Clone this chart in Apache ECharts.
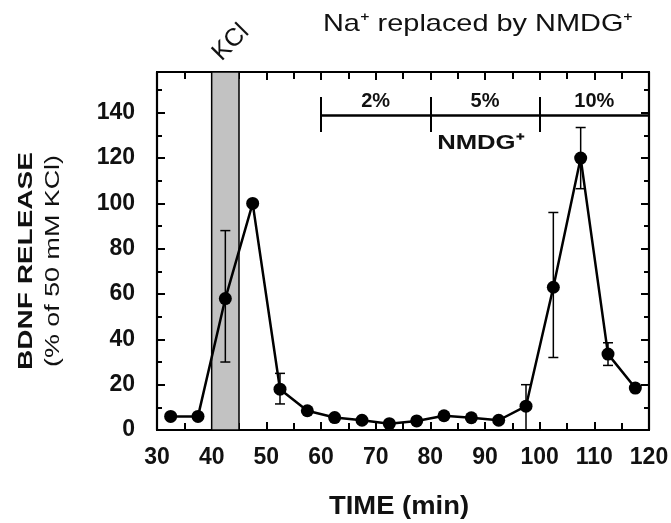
<!DOCTYPE html>
<html>
<head>
<meta charset="utf-8">
<script src="https://cdn.jsdelivr.net/npm/echarts@6/dist/echarts.min.js"></script>
<style>
  html, body { margin: 0; padding: 0; background: #fff; }
  #chart { width: 671px; height: 523px; }
</style>
</head>
<body>
<div id="chart"></div>
<script>
// sampling times (min) and BDNF release (% of 50 mM KCl)
const time = [32.5, 37.5, 42.5, 47.5, 52.5, 57.5, 62.5, 67.5, 72.5, 77.5, 82.5, 87.5, 92.5, 97.5, 102.5, 107.5, 112.5, 117.5]
const release = [6, 6, 58, 100, 18, 8.5, 5.5, 4.3, 2.8, 4, 6.3, 5.4, 4.3, 10.5, 63, 120, 33.5, 18.5]
const errLow = [null, null, 30, null, 11.5, null, null, null, null, null, null, null, null, 0, 32, 106.5, 28.5, null]
const errHigh = [null, null, 88, null, 25, null, null, null, null, null, null, null, null, 20, 96, 133.5, 38.5, null]

const xRange = [30, 120]
const yRange = [0, 158]
const kclPulse = [40, 45]
const doseEdges = [60, 80, 100, 120]
const doseLabels = ['2%', '5%', '10%']
const doseLevel = 139
const doseTick = [131.5, 147]

const FONT = '"Liberation Sans", Arial, Helvetica, sans-serif'

const chart = echarts.init(document.getElementById('chart'))

function xAxisOpt(pos, labels) {
  return {
    type: 'value', position: pos, min: xRange[0], max: xRange[1], interval: 10,
    axisLine: { show: true, onZero: false, lineStyle: { color: '#000', width: 2.2 } },
    axisTick: { show: true, inside: true, length: 8, lineStyle: { color: '#000', width: 2 } },
    minorTick: { show: true, splitNumber: 2, length: 7, lineStyle: { color: '#000', width: 2 } },
    axisLabel: { show: labels, margin: 16, fontSize: 23, fontWeight: 'bold', color: '#111', fontFamily: FONT },
    splitLine: { show: false }
  }
}
function yAxisOpt(pos, labels) {
  return {
    type: 'value', position: pos, min: yRange[0], max: yRange[1], interval: 20,
    axisLine: { show: true, onZero: false, lineStyle: { color: '#000', width: 2.2 } },
    axisTick: { show: true, inside: true, length: 8, lineStyle: { color: '#000', width: 2 } },
    minorTick: { show: true, splitNumber: 2, length: 5, lineStyle: { color: '#000', width: 2 } },
    axisLabel: {
      show: labels, margin: 22, fontSize: 23, fontWeight: 'bold', color: '#111', fontFamily: FONT,
      formatter: v => (v % 20 === 0 ? String(v) : '')
    },
    splitLine: { show: false }
  }
}

// NMDG dose bar: horizontal line plus end ticks
const doseLines = [[{ coord: [doseEdges[0], doseLevel] }, { coord: [doseEdges[doseEdges.length - 1], doseLevel] }]]
doseEdges.forEach(x => doseLines.push([{ coord: [x, doseTick[0]], lineStyle: { width: 2 } }, { coord: [x, doseTick[1]] }]))

const errData = []
time.forEach((t, i) => { if (errLow[i] !== null) errData.push([t, errLow[i], errHigh[i]]) })

chart.setOption({
  animation: false,
  backgroundColor: '#fff',
  grid: {
    left: 157, right: 22, top: 72, bottom: 93, outerBoundsMode: 'none',
    show: true, borderColor: '#000', borderWidth: 2, backgroundColor: 'transparent'
  },
  xAxis: [xAxisOpt('bottom', true), xAxisOpt('top', false)],
  yAxis: [yAxisOpt('left', true), yAxisOpt('right', false)],
  series: [
    {
      type: 'line', data: [], z: 1,
      markArea: {
        silent: true,
        itemStyle: { color: '#c2c2c2', borderColor: '#000', borderWidth: 1.5 },
        data: [[{ xAxis: kclPulse[0] }, { xAxis: kclPulse[1] }]]
      }
    },
    {
      type: 'line', data: [], z: 2,
      markLine: {
        silent: true, symbol: ['none', 'none'], label: { show: false },
        lineStyle: { color: '#000', width: 2.5, type: 'solid' },
        data: doseLines
      }
    },
    {
      // error bars live on the mirrored top/right axes (same ranges)
      type: 'custom', z: 3, xAxisIndex: 1, yAxisIndex: 1,
      data: errData,
      encode: { x: 0, y: [1, 2] },
      renderItem: (params, api) => {
        const lo = api.coord([api.value(0), api.value(1)])
        const hi = api.coord([api.value(0), api.value(2)])
        const w = 5
        const st = { stroke: '#000', lineWidth: 1.5 }
        return {
          type: 'group',
          children: [
            { type: 'line', shape: { x1: lo[0], y1: lo[1], x2: hi[0], y2: hi[1] }, style: st },
            { type: 'line', shape: { x1: lo[0] - w, y1: lo[1], x2: lo[0] + w, y2: lo[1] }, style: st },
            { type: 'line', shape: { x1: hi[0] - w, y1: hi[1], x2: hi[0] + w, y2: hi[1] }, style: st }
          ]
        }
      }
    },
    {
      type: 'line', z: 4,
      data: time.map((t, i) => [t, release[i]]),
      symbol: 'circle', symbolSize: 13,
      itemStyle: { color: '#000' },
      lineStyle: { color: '#000', width: 2.5 }
    }
  ]
})

// text annotations, stretched to the widths of the original lettering
const ctx = document.createElement('canvas').getContext('2d')
function textEl(text, font, x, y, opts) {
  opts = opts || {}
  let sx = 1
  if (opts.width) {
    ctx.font = font
    sx = opts.width / ctx.measureText(text).width
  }
  return {
    type: 'text', x: x, y: y, rotation: opts.rotation || 0, scaleX: sx, z: 10,
    style: {
      text: text, font: font, fill: '#111',
      align: 'center', verticalAlign: 'middle',
      textAlign: 'center', textVerticalAlign: 'middle'
    }
  }
}
const px = (x, y) => chart.convertToPixel({ gridIndex: 0 }, [x, y])

const graphics = [
  textEl('Na\u207A replaced by NMDG\u207A', 'normal 24px ' + FONT, 478, 24, { width: 310 }),
  textEl('BDNF RELEASE', 'bold 21px ' + FONT, 26, 261, { width: 218, rotation: Math.PI / 2 }),
  textEl('(% of 50 mM KCl)', 'normal 20px ' + FONT, 53, 261, { width: 212, rotation: Math.PI / 2 }),
  textEl('TIME (min)', 'bold 26px ' + FONT, 399, 507, { width: 140 })
]
const kclPos = px(43.5, 171)
graphics.push(textEl('KCl', 'normal 25px ' + FONT, kclPos[0], kclPos[1], { rotation: Math.PI / 4 }))
doseLabels.forEach((lab, i) => {
  const p = px((doseEdges[i] + doseEdges[i + 1]) / 2, 145)
  graphics.push(textEl(lab, 'bold 20px ' + FONT, p[0], p[1]))
})
const nm = px(89.2, 126.6)
graphics.push(textEl('NMDG\u207A', 'bold 21px ' + FONT, nm[0], nm[1], { width: 87 }))

chart.setOption({ graphic: graphics })
</script>
</body>
</html>
